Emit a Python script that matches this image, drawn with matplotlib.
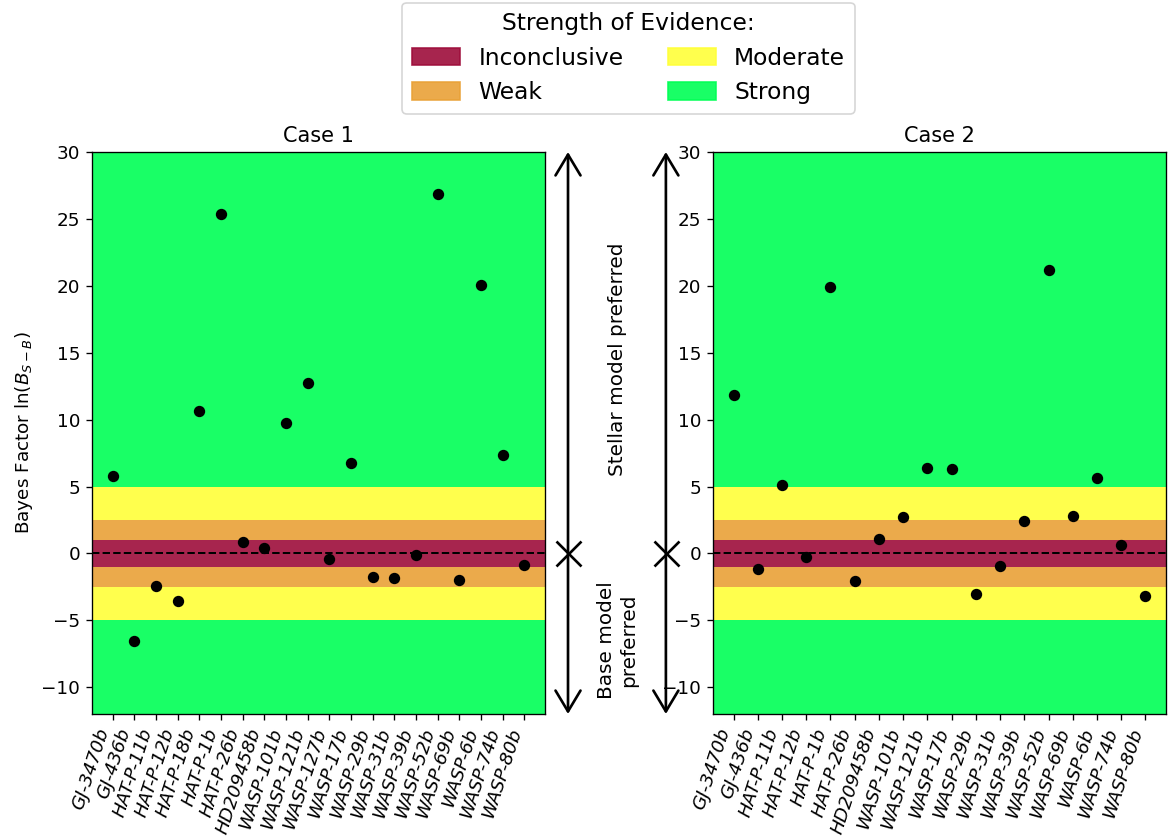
import numpy as np
import matplotlib
matplotlib.use("Agg")
import matplotlib.pyplot as plt
from matplotlib.patches import Patch

# Planet labels and Bayes factors for each case
planets_case1 = ["GJ-3470b", "GJ-436b", "HAT-P-11b", "HAT-P-12b", "HAT-P-18b",
                 "HAT-P-1b", "HAT-P-26b", "HD209458b", "WASP-101b", "WASP-121b",
                 "WASP-127b", "WASP-17b", "WASP-29b", "WASP-31b", "WASP-39b",
                 "WASP-52b", "WASP-69b", "WASP-6b", "WASP-74b", "WASP-80b"]
lnB_case1 = [5.8, -6.55, -2.4, -3.55, 10.65, 25.4, 0.85, 0.4, 9.75, 12.7,
             -0.45, 6.75, -1.75, -1.8, -0.1, 26.85, -2.0, 20.03, 7.35, -0.9]

planets_case2 = ["GJ-3470b", "GJ-436b", "HAT-P-11b", "HAT-P-12b", "HAT-P-1b",
                 "HAT-P-26b", "HD209458b", "WASP-101b", "WASP-121b", "WASP-17b",
                 "WASP-29b", "WASP-31b", "WASP-39b", "WASP-52b", "WASP-69b",
                 "WASP-6b", "WASP-74b", "WASP-80b"]
lnB_case2 = [11.85, -1.15, 5.1, -0.25, 19.9, -2.05, 1.05, 2.75, 6.38, 6.33,
             -3.05, -0.95, 2.45, 21.2, 2.8, 5.6, 0.6, -3.2]

# Evidence scale thresholds on |ln B|
evidence_labels = ["Inconclusive", "Weak", "Moderate", "Strong"]
evidence_edges = [0.0, 1.0, 2.5, 5.0, 100.0]
evidence_colors = ["#9e0d3b", "#e9a137", "#ffff39", "#00ff55"]
band_alpha = 0.9

W, H, DPI = 1168, 840, 120
fig = plt.figure(figsize=(W / DPI, H / DPI), dpi=DPI)

def frac_rect(x0, y0, x1, y1):
    return [x0 / W, 1 - y1 / H, (x1 - x0) / W, (y1 - y0) / H]

ax1 = fig.add_axes(frac_rect(92, 152, 545, 714))
ax2 = fig.add_axes(frac_rect(713, 152, 1166, 714))

for ax, names, vals, title in [(ax1, planets_case1, lnB_case1, "Case 1"),
                               (ax2, planets_case2, lnB_case2, "Case 2")]:
    for lo, hi, col in zip(evidence_edges[:-1], evidence_edges[1:], evidence_colors):
        ax.axhspan(lo, hi, color=col, alpha=band_alpha, lw=0)
        ax.axhspan(-hi, -lo, color=col, alpha=band_alpha, lw=0)
    ax.axhline(0, color="k", ls="--", lw=1.2)
    x = np.arange(len(names))
    ax.plot(x, vals, "o", color="k", ms=5.8, zorder=3)
    ax.set_ylim(-12, 30)
    ax.set_yticks(np.arange(-10, 31, 5))
    ax.set_xticks(x)
    ax.set_xticklabels(names, rotation=72, ha="right", fontstyle="italic", fontsize=11)
    ax.tick_params(axis="y", labelsize=11)
    ax.set_title(title, fontsize=12.5)

ax1.set_ylabel(r"Bayes Factor ln($B_{S-B}$)", fontsize=11)

# Direction indicators between the panels
for ax, xa in [(ax1, 1.0508), (ax2, -0.104)]:
    ax.annotate("", xy=(xa, 1.0), xytext=(xa, 0.0), xycoords="axes fraction",
                arrowprops=dict(arrowstyle="<->,head_length=0.5,head_width=0.3",
                                mutation_scale=25, lw=1.6, color="k",
                                shrinkA=0, shrinkB=0), annotation_clip=False)
    ax.plot([xa], [0], "x", color="k", ms=15, mew=1.6,
            transform=ax.get_yaxis_transform(), clip_on=False, zorder=5)

ax1.text(1.161, 14.5, "Stellar model preferred", rotation=90, ha="center",
         va="center", fontsize=12, transform=ax1.get_yaxis_transform())
ax1.text(1.161, -6.5, "Base model\npreferred", rotation=90, ha="center",
         va="center", fontsize=12, multialignment="center",
         transform=ax1.get_yaxis_transform())

handles = [Patch(facecolor=c, edgecolor=c, alpha=band_alpha, label=l)
           for c, l in zip(evidence_colors, evidence_labels)]
fig.legend(handles, evidence_labels,
           loc="upper center", bbox_to_anchor=(628.5 / W, 1 + 9 / H), ncol=2,
           title="Strength of Evidence:", fontsize=14, title_fontsize=14,
           handlelength=2.05, handleheight=0.8, columnspacing=1.9)

fig.savefig("out.png", dpi=DPI)
